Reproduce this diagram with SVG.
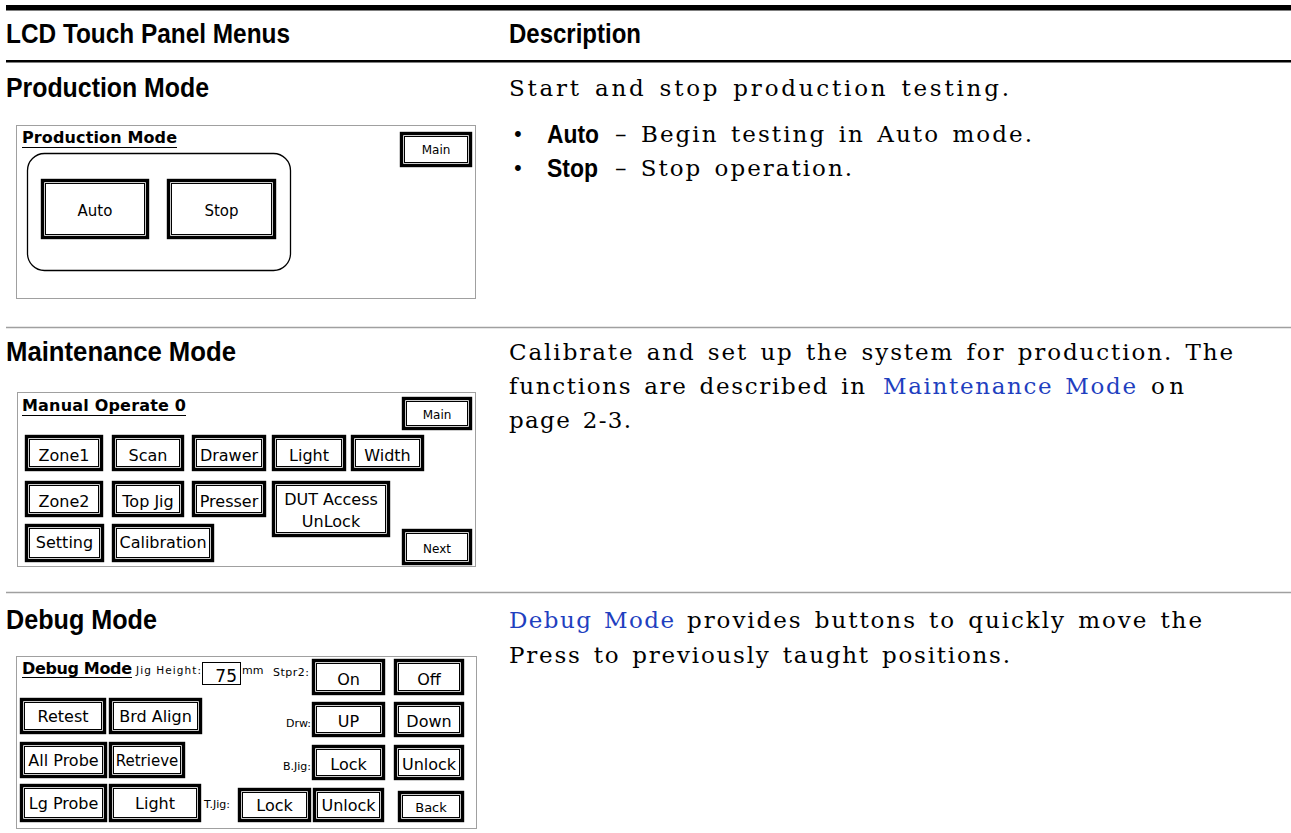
<svg xmlns="http://www.w3.org/2000/svg" width="1291" height="833" viewBox="0 0 1291 833">
<style>
.hd{font-family:"Liberation Sans",Arial,sans-serif;font-weight:bold;font-size:27px;fill:#000}
.bd{font-family:"DejaVu Serif","Liberation Serif",serif;font-size:23px;word-spacing:3px;fill:#000}
.lk{fill:#1f3fbf}
.pt{font-family:"DejaVu Sans",sans-serif;font-weight:bold;font-size:16px;fill:#000}
.bt{font-family:"DejaVu Sans",sans-serif;font-size:16px;text-anchor:middle;fill:#000}
.sm{font-family:"DejaVu Sans",sans-serif;font-size:12px;text-anchor:middle;fill:#000}
.lb{font-family:"DejaVu Sans",sans-serif;font-size:11px;fill:#000}
.pn{fill:#fff;stroke:#a0a0a0;stroke-width:1}
.bo{fill:#fff;stroke:#000;stroke-width:3.4}
.bi{fill:none;stroke:#000;stroke-width:1}
.sep{stroke:#a0a0a0;stroke-width:1.5}
.ul{stroke:#000;stroke-width:1}
</style>
<rect width="1291" height="833" fill="#fff"/>
<g id="header">
<rect x="6" y="5" width="1285" height="5.5" fill="#000"/>
<text class="hd" x="6" y="43" textLength="284" lengthAdjust="spacingAndGlyphs">LCD Touch Panel Menus</text>
<text class="hd" x="509" y="43" textLength="132" lengthAdjust="spacingAndGlyphs">Description</text>
<rect x="6" y="60" width="1285" height="2.5" fill="#000"/>
</g>
<g id="separators">
<line class="sep" x1="6" y1="327.5" x2="1291" y2="327.5"/>
<line class="sep" x1="6" y1="592.5" x2="1291" y2="592.5"/>
</g>
<g id="production-mode">
<text class="hd" x="6" y="97" textLength="203" lengthAdjust="spacingAndGlyphs">Production Mode</text>
<g id="production-panel">
<rect class="pn" x="16.5" y="125.5" width="459" height="173"/>
<text class="pt" x="22" y="143" textLength="155">Production Mode</text>
<line class="ul" x1="22" y1="147.5" x2="177" y2="147.5"/>
<rect x="27.5" y="153.5" width="263" height="117" rx="17" fill="none" stroke="#000" stroke-width="1.3"/>
<g id="btn-auto"><rect class="bo" x="42.5" y="180.5" width="105" height="57"/><rect class="bi" x="45.5" y="183.5" width="99" height="51"/><text class="bt" x="95" y="216" style="font-size:15px">Auto</text></g>
<g id="btn-stop"><rect class="bo" x="168.5" y="180.5" width="106" height="57"/><rect class="bi" x="171.5" y="183.5" width="100" height="51"/><text class="bt" x="221.5" y="216" style="font-size:15px">Stop</text></g>
<g id="btn-main-p"><rect class="bo" x="401.5" y="133.5" width="69" height="32"/><rect class="bi" x="404.5" y="136.5" width="63" height="26"/><text class="sm" x="436" y="153.5">Main</text></g>
</g>
<text class="bd" x="509" y="96" textLength="500" lengthAdjust="spacing">Start and stop production testing.</text>
<text class="bd" x="512" y="142" style="font-size:20px">•</text>
<text class="hd" x="547" y="143" textLength="52" lengthAdjust="spacingAndGlyphs" style="font-size:25px">Auto</text>
<text class="bd" x="615" y="142" textLength="417" lengthAdjust="spacing">– Begin testing in Auto mode.</text>
<text class="bd" x="512" y="176" style="font-size:20px">•</text>
<text class="hd" x="547" y="177" textLength="51" lengthAdjust="spacingAndGlyphs" style="font-size:25px">Stop</text>
<text class="bd" x="615" y="176" textLength="237" lengthAdjust="spacing">– Stop operation.</text>
</g>
<g id="maintenance-mode">
<text class="hd" x="6" y="361" textLength="230" lengthAdjust="spacingAndGlyphs">Maintenance Mode</text>
<g id="maintenance-panel">
<rect class="pn" x="17.5" y="392.5" width="458" height="174"/>
<text class="pt" x="22" y="411" textLength="164">Manual Operate 0</text>
<line class="ul" x1="22" y1="415.5" x2="186" y2="415.5"/>
<g id="btn-main-m"><rect class="bo" x="403.5" y="398.5" width="67" height="30"/><rect class="bi" x="406.5" y="401.5" width="61" height="24"/><text class="sm" x="437" y="419">Main</text></g>
<g id="btn-zone1"><rect class="bo" x="26.5" y="436.5" width="75" height="33"/><rect class="bi" x="29.5" y="439.5" width="69" height="27"/><text class="bt" x="64" y="461">Zone1</text></g>
<g id="btn-scan"><rect class="bo" x="113.5" y="436.5" width="69" height="33"/><rect class="bi" x="116.5" y="439.5" width="63" height="27"/><text class="bt" x="148" y="461">Scan</text></g>
<g id="btn-drawer"><rect class="bo" x="193.5" y="436.5" width="71" height="33"/><rect class="bi" x="196.5" y="439.5" width="65" height="27"/><text class="bt" x="229" y="461">Drawer</text></g>
<g id="btn-light-m"><rect class="bo" x="273.5" y="436.5" width="71" height="33"/><rect class="bi" x="276.5" y="439.5" width="65" height="27"/><text class="bt" x="309" y="461">Light</text></g>
<g id="btn-width"><rect class="bo" x="352.5" y="436.5" width="70" height="33"/><rect class="bi" x="355.5" y="439.5" width="64" height="27"/><text class="bt" x="387.5" y="461">Width</text></g>
<g id="btn-zone2"><rect class="bo" x="26.5" y="482.5" width="75" height="33"/><rect class="bi" x="29.5" y="485.5" width="69" height="27"/><text class="bt" x="64" y="507">Zone2</text></g>
<g id="btn-topjig"><rect class="bo" x="113.5" y="482.5" width="69" height="33"/><rect class="bi" x="116.5" y="485.5" width="63" height="27"/><text class="bt" x="148" y="507">Top Jig</text></g>
<g id="btn-presser"><rect class="bo" x="193.5" y="482.5" width="71" height="33"/><rect class="bi" x="196.5" y="485.5" width="65" height="27"/><text class="bt" x="229" y="507">Presser</text></g>
<g id="btn-dut"><rect class="bo" x="273.5" y="482.5" width="115" height="53"/><rect class="bi" x="276.5" y="485.5" width="109" height="47"/><text class="bt" x="331" y="505">DUT Access</text><text class="bt" x="331" y="527">UnLock</text></g>
<g id="btn-setting"><rect class="bo" x="26.5" y="525.5" width="76" height="35"/><rect class="bi" x="29.5" y="528.5" width="70" height="29"/><text class="bt" x="64.5" y="548">Setting</text></g>
<g id="btn-calibration"><rect class="bo" x="113.5" y="525.5" width="99" height="35"/><rect class="bi" x="116.5" y="528.5" width="93" height="29"/><text class="bt" x="163" y="548">Calibration</text></g>
<g id="btn-next"><rect class="bo" x="403.5" y="530.5" width="67" height="33"/><rect class="bi" x="406.5" y="533.5" width="61" height="27"/><text class="sm" x="437" y="553">Next</text></g>
</g>
<text class="bd" x="509" y="360" textLength="724" lengthAdjust="spacing">Calibrate and set up the system for production. The</text>
<text class="bd" x="509" y="394" textLength="356" lengthAdjust="spacing">functions are described in</text>
<text class="bd lk" x="883" y="394" textLength="253" lengthAdjust="spacing">Maintenance Mode</text>
<text class="bd" x="1151" y="394" textLength="33" lengthAdjust="spacing">on</text>
<text class="bd" x="509" y="428" textLength="122" lengthAdjust="spacing">page 2-3.</text>
</g>
<g id="debug-mode">
<text class="hd" x="6" y="629" textLength="151" lengthAdjust="spacingAndGlyphs">Debug Mode</text>
<g id="debug-panel">
<rect class="pn" x="16.5" y="656.5" width="460" height="172"/>
<text class="pt" x="22" y="674" textLength="110">Debug Mode</text>
<line class="ul" x1="22" y1="677.5" x2="132" y2="677.5"/>
<text class="lb" x="136" y="674" textLength="65" style="font-size:10.5px">Jig Height:</text>
<rect x="202.5" y="662.5" width="38" height="22" fill="#fff" stroke="#000" stroke-width="1"/>
<text class="bt" x="237" y="681.5" style="text-anchor:end;font-size:17px">75</text>
<text class="lb" x="242" y="674">mm</text>
<text class="lb" x="273" y="676" textLength="36">Stpr2:</text>
<g id="btn-on"><rect class="bo" x="313.5" y="660.5" width="70" height="33"/><rect class="bi" x="316.5" y="663.5" width="64" height="27"/><text class="bt" x="348.5" y="685">On</text></g>
<g id="btn-off"><rect class="bo" x="395.5" y="660.5" width="67" height="33"/><rect class="bi" x="398.5" y="663.5" width="61" height="27"/><text class="bt" x="429" y="685">Off</text></g>
<g id="btn-retest"><rect class="bo" x="21.5" y="699.5" width="83" height="33"/><rect class="bi" x="24.5" y="702.5" width="77" height="27"/><text class="bt" x="63" y="722">Retest</text></g>
<g id="btn-brdalign"><rect class="bo" x="110.5" y="699.5" width="90" height="33"/><rect class="bi" x="113.5" y="702.5" width="84" height="27"/><text class="bt" x="155.5" y="722">Brd Align</text></g>
<text class="lb" x="311" y="727" style="text-anchor:end">Drw:</text>
<g id="btn-up"><rect class="bo" x="313.5" y="703.5" width="70" height="32"/><rect class="bi" x="316.5" y="706.5" width="64" height="26"/><text class="bt" x="348.5" y="727">UP</text></g>
<g id="btn-down"><rect class="bo" x="395.5" y="703.5" width="67" height="32"/><rect class="bi" x="398.5" y="706.5" width="61" height="26"/><text class="bt" x="429" y="727">Down</text></g>
<g id="btn-allprobe"><rect class="bo" x="21.5" y="743.5" width="84" height="33"/><rect class="bi" x="24.5" y="746.5" width="78" height="27"/><text class="bt" x="63.5" y="766">All Probe</text></g>
<g id="btn-retrieve"><rect class="bo" x="110.5" y="743.5" width="73" height="33"/><rect class="bi" x="113.5" y="746.5" width="67" height="27"/><text class="bt" x="147" y="766" style="font-size:15px">Retrieve</text></g>
<text class="lb" x="311" y="770" style="text-anchor:end">B.Jig:</text>
<g id="btn-bjig-lock"><rect class="bo" x="313.5" y="746.5" width="70" height="32"/><rect class="bi" x="316.5" y="749.5" width="64" height="26"/><text class="bt" x="348.5" y="770">Lock</text></g>
<g id="btn-bjig-unlock"><rect class="bo" x="395.5" y="746.5" width="67" height="32"/><rect class="bi" x="398.5" y="749.5" width="61" height="26"/><text class="bt" x="429" y="770">Unlock</text></g>
<g id="btn-lgprobe"><rect class="bo" x="21.5" y="785.5" width="84" height="35"/><rect class="bi" x="24.5" y="788.5" width="78" height="29"/><text class="bt" x="63.5" y="809">Lg Probe</text></g>
<g id="btn-light-d"><rect class="bo" x="110.5" y="785.5" width="89" height="35"/><rect class="bi" x="113.5" y="788.5" width="83" height="29"/><text class="bt" x="155" y="809">Light</text></g>
<text class="lb" x="204" y="808">T.Jig:</text>
<g id="btn-tjig-lock"><rect class="bo" x="239.5" y="789.5" width="70" height="31"/><rect class="bi" x="242.5" y="792.5" width="64" height="25"/><text class="bt" x="274.5" y="811">Lock</text></g>
<g id="btn-tjig-unlock"><rect class="bo" x="314.5" y="789.5" width="68" height="31"/><rect class="bi" x="317.5" y="792.5" width="62" height="25"/><text class="bt" x="348.5" y="811">Unlock</text></g>
<g id="btn-back"><rect class="bo" x="399.5" y="792.5" width="63" height="28"/><rect class="bi" x="402.5" y="795.5" width="57" height="22"/><text class="sm" x="431" y="812" style="font-size:13px">Back</text></g>
</g>
<text class="bd lk" x="509" y="628" textLength="165" lengthAdjust="spacing">Debug Mode</text>
<text class="bd" x="687" y="628" textLength="515" lengthAdjust="spacing">provides buttons to quickly move the</text>
<text class="bd" x="509" y="663" textLength="501" lengthAdjust="spacing">Press to previously taught positions.</text>
</g>
</svg>
